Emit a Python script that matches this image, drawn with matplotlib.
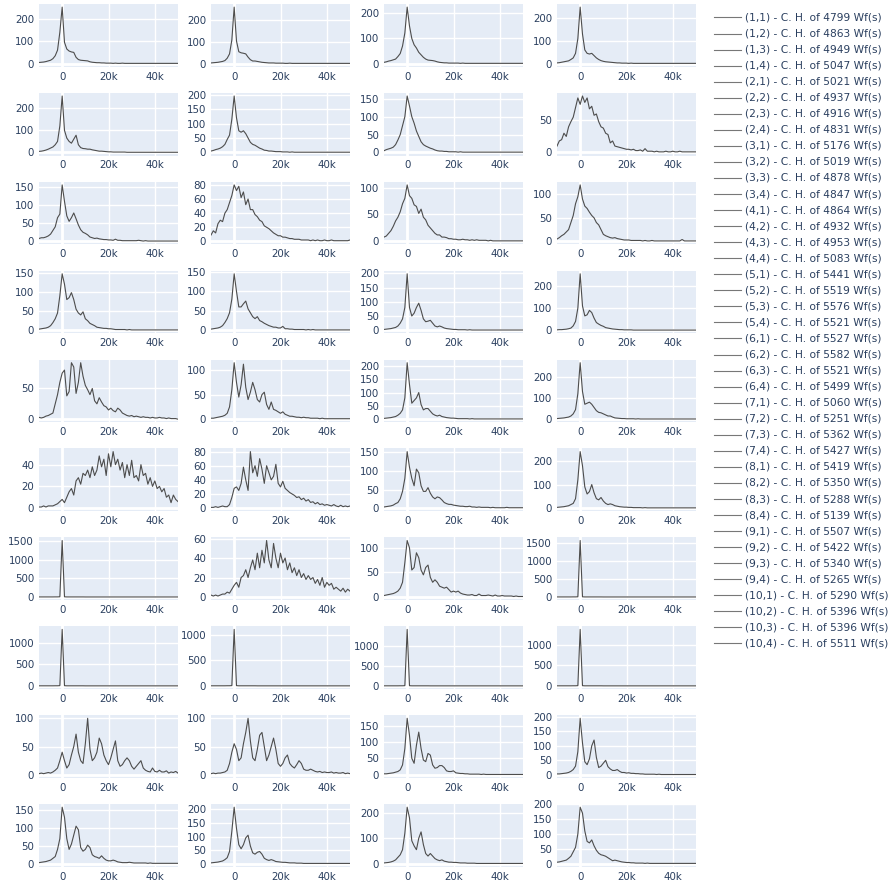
import numpy as np
import matplotlib
matplotlib.use("Agg")
import matplotlib.pyplot as plt
from matplotlib.lines import Line2D
from matplotlib.ticker import FuncFormatter, MultipleLocator

# Histogram counts per 1k-wide bin, bins start at -10k
BIN_START = -10000
BIN_WIDTH = 1000

c_1_1 = [5, 6, 7, 9, 12, 15, 22, 35, 60, 140,
         252, 95, 65, 56, 52, 50, 28, 18, 15, 14,
         13, 12, 8, 6, 5, 4, 4, 3, 3, 2,
         2, 2, 1, 2, 1, 1, 2, 1, 1, 1,
         1, 1, 1, 1, 1, 1, 1, 1, 1, 1,
         1, 1, 1, 1, 1, 1, 1, 1, 1, 1,
         1]
c_1_2 = [3, 4, 5, 6, 8, 10, 14, 25, 45, 110,
         262, 105, 55, 50, 48, 45, 30, 18, 12, 12,
         10, 8, 6, 5, 4, 3, 3, 3, 2, 2,
         2, 2, 1, 1, 2, 1, 1, 1, 1, 1,
         1, 1, 1, 1, 1, 1, 1, 1, 1, 1,
         1, 1, 1, 1, 1, 1, 1, 1, 1, 1,
         1]
c_1_3 = [5, 7, 10, 12, 15, 18, 28, 40, 70, 122,
         225, 150, 100, 75, 62, 45, 35, 25, 18, 14,
         13, 12, 10, 7, 5, 4, 3, 3, 2, 2,
         2, 2, 2, 1, 2, 1, 1, 1, 1, 1,
         1, 1, 1, 1, 1, 1, 1, 1, 1, 1,
         1, 1, 1, 1, 1, 1, 1, 1, 1, 1,
         1]
c_1_4 = [3, 4, 6, 8, 10, 12, 18, 25, 45, 110,
         248, 130, 60, 45, 42, 45, 35, 25, 18, 13,
         10, 8, 7, 6, 5, 4, 3, 3, 2, 2,
         2, 1, 2, 1, 1, 1, 1, 1, 1, 1,
         1, 1, 1, 1, 1, 1, 1, 1, 1, 1,
         1, 1, 1, 1, 1, 1, 1, 1, 1, 1,
         1]
c_2_1 = [5, 6, 8, 11, 15, 20, 25, 35, 50, 120,
         255, 100, 65, 50, 42, 60, 78, 35, 22, 18,
         17, 15, 15, 12, 10, 8, 6, 6, 5, 4,
         3, 3, 2, 2, 2, 2, 2, 2, 1, 1,
         1, 1, 1, 1, 1, 1, 1, 1, 1, 1,
         1, 1, 1, 1, 1, 1, 1, 1, 1, 1,
         1]
c_2_2 = [5, 7, 10, 12, 15, 20, 28, 45, 60, 115,
         195, 120, 75, 70, 75, 65, 50, 35, 28, 25,
         20, 15, 12, 8, 7, 5, 5, 4, 3, 3,
         3, 2, 2, 2, 1, 2, 1, 1, 1, 1,
         1, 1, 1, 1, 1, 1, 1, 1, 1, 1,
         1, 1, 1, 1, 1, 1, 1, 1, 1, 1,
         1]
c_2_3 = [5, 8, 10, 12, 15, 22, 35, 50, 75, 100,
         158, 130, 100, 82, 60, 45, 30, 22, 18, 15,
         12, 10, 7, 5, 4, 4, 3, 3, 2, 2,
         2, 2, 1, 2, 1, 1, 1, 1, 1, 1,
         1, 1, 1, 1, 1, 1, 1, 1, 1, 1,
         1, 1, 1, 1, 1, 1, 1, 1, 1, 1,
         1]
c_2_4 = [10, 18, 20, 30, 25, 40, 48, 55, 70, 85,
         75, 88, 78, 85, 68, 72, 58, 60, 48, 40,
         38, 30, 28, 15, 18, 10, 9, 8, 7, 6,
         5, 5, 4, 5, 3, 3, 4, 2, 6, 2,
         2, 2, 1, 2, 1, 1, 1, 2, 1, 1,
         2, 1, 1, 2, 1, 1, 1, 1, 1, 1,
         1]
c_3_1 = [8, 10, 10, 12, 15, 20, 30, 40, 65, 75,
         155, 110, 70, 55, 65, 78, 62, 45, 32, 25,
         22, 18, 12, 10, 8, 9, 7, 6, 5, 5,
         4, 4, 3, 6, 3, 3, 2, 2, 2, 2,
         2, 2, 2, 3, 2, 1, 2, 1, 1, 1,
         1, 1, 1, 1, 1, 1, 1, 1, 1, 1,
         1]
c_3_2 = [9, 15, 12, 25, 30, 28, 40, 45, 55, 65,
         80, 72, 78, 62, 70, 52, 60, 45, 45, 38,
         35, 30, 28, 22, 20, 18, 15, 12, 10, 8,
         8, 6, 6, 5, 4, 4, 3, 3, 3, 2,
         2, 2, 2, 1, 2, 1, 2, 1, 1, 2,
         1, 1, 2, 1, 1, 1, 1, 1, 1, 1,
         2]
c_3_3 = [8, 10, 15, 20, 28, 38, 45, 55, 70, 80,
         105, 85, 80, 68, 65, 52, 60, 45, 40, 30,
         25, 20, 15, 12, 12, 8, 8, 7, 5, 5,
         4, 4, 3, 3, 4, 3, 3, 2, 3, 2,
         3, 2, 2, 2, 2, 1, 2, 1, 1, 1,
         1, 1, 1, 1, 1, 1, 1, 1, 1, 1,
         1]
c_3_4 = [5, 8, 12, 15, 20, 25, 40, 55, 80, 95,
         120, 90, 75, 70, 62, 55, 50, 40, 35, 25,
         15, 12, 10, 8, 7, 8, 6, 5, 4, 3,
         3, 3, 2, 2, 2, 2, 2, 1, 2, 1,
         1, 2, 1, 1, 1, 1, 1, 1, 1, 1,
         1, 1, 1, 1, 4, 1, 1, 1, 1, 1,
         1]
c_4_1 = [3, 4, 5, 6, 8, 12, 20, 30, 45, 90,
         147, 120, 80, 85, 98, 80, 55, 45, 40, 48,
         30, 25, 18, 15, 12, 8, 7, 6, 5, 5,
         4, 4, 3, 2, 2, 2, 2, 2, 1, 2,
         1, 1, 1, 1, 1, 1, 1, 1, 1, 1,
         1, 1, 1, 1, 1, 1, 1, 1, 1, 1,
         1]
c_4_2 = [3, 4, 5, 6, 8, 12, 20, 30, 45, 80,
         145, 100, 60, 60, 68, 75, 55, 45, 35, 30,
         35, 25, 22, 18, 15, 12, 10, 8, 8, 6,
         6, 10, 4, 4, 3, 3, 2, 2, 2, 2,
         2, 1, 2, 1, 2, 1, 1, 1, 1, 1,
         1, 1, 1, 1, 1, 1, 1, 1, 1, 1,
         1]
c_4_3 = [3, 4, 5, 6, 8, 10, 15, 25, 40, 80,
         198, 80, 50, 60, 80, 95, 70, 40, 30, 32,
         35, 25, 15, 12, 15, 12, 8, 6, 5, 4,
         3, 3, 2, 2, 2, 2, 1, 2, 1, 1,
         1, 1, 1, 1, 1, 1, 1, 1, 1, 1,
         1, 1, 1, 1, 1, 1, 1, 1, 1, 1,
         1]
c_4_4 = [2, 3, 3, 4, 5, 7, 10, 20, 40, 100,
         255, 110, 65, 70, 90, 80, 55, 35, 28, 22,
         18, 12, 10, 8, 6, 5, 4, 3, 3, 2,
         2, 2, 2, 1, 1, 1, 1, 1, 1, 1,
         1, 1, 1, 1, 1, 1, 1, 1, 1, 1,
         1, 1, 1, 1, 1, 1, 1, 1, 1, 1,
         1]
c_5_1 = [3, 2, 3, 5, 6, 8, 10, 25, 40, 60,
         75, 80, 38, 45, 92, 85, 42, 60, 92, 70,
         55, 48, 40, 50, 30, 25, 35, 28, 22, 20,
         15, 18, 14, 12, 18, 15, 10, 8, 6, 5,
         6, 4, 5, 4, 3, 4, 3, 3, 2, 3,
         2, 2, 3, 2, 2, 1, 2, 1, 1, 1,
         0]
c_5_2 = [2, 2, 3, 4, 5, 6, 8, 12, 25, 60,
         115, 75, 45, 70, 112, 65, 40, 55, 75, 60,
         40, 35, 50, 55, 30, 20, 35, 20, 18, 15,
         12, 15, 10, 8, 6, 6, 5, 4, 4, 3,
         4, 3, 3, 2, 2, 2, 2, 1, 2, 1,
         1, 1, 1, 1, 1, 1, 1, 1, 1, 1,
         1]
c_5_3 = [3, 4, 5, 6, 8, 10, 15, 22, 35, 80,
         212, 130, 60, 70, 80, 100, 55, 35, 40, 40,
         30, 20, 15, 12, 15, 10, 8, 6, 5, 4,
         4, 3, 2, 2, 2, 2, 2, 1, 2, 1,
         1, 1, 1, 1, 1, 1, 1, 1, 1, 1,
         1, 1, 1, 1, 1, 1, 1, 1, 1, 1,
         1]
c_5_4 = [3, 4, 5, 6, 8, 10, 15, 25, 45, 120,
         265, 130, 70, 75, 80, 70, 55, 40, 32, 30,
         25, 20, 15, 15, 10, 6, 5, 4, 3, 3,
         2, 2, 2, 2, 1, 2, 1, 1, 1, 1,
         1, 1, 1, 1, 1, 1, 1, 1, 1, 1,
         1, 1, 1, 1, 1, 1, 1, 1, 1, 1,
         1]
c_6_1 = [1, 1, 2, 1, 2, 2, 2, 3, 4, 6,
         8, 5, 10, 15, 18, 12, 25, 28, 22, 32,
         30, 35, 28, 38, 30, 35, 48, 38, 45, 30,
         50, 38, 52, 40, 45, 35, 42, 28, 40, 30,
         44, 28, 30, 25, 40, 30, 32, 22, 28, 20,
         25, 18, 20, 15, 18, 10, 12, 5, 12, 8,
         6]
c_6_2 = [1, 1, 2, 1, 2, 3, 2, 2, 5, 15,
         28, 30, 25, 35, 58, 40, 25, 80, 50, 60,
         45, 70, 55, 35, 60, 50, 40, 45, 62, 35,
         30, 38, 28, 25, 22, 20, 18, 15, 16, 12,
         14, 10, 12, 8, 9, 6, 8, 5, 6, 4,
         5, 4, 3, 5, 3, 2, 4, 2, 3, 2,
         3]
c_6_3 = [3, 4, 5, 6, 8, 12, 15, 25, 45, 80,
         152, 110, 80, 60, 105, 95, 60, 45, 45, 55,
         40, 30, 25, 30, 28, 22, 15, 12, 10, 10,
         8, 7, 6, 5, 5, 4, 4, 5, 3, 3,
         2, 3, 2, 2, 2, 2, 1, 2, 1, 1,
         1, 1, 1, 2, 1, 1, 1, 1, 1, 1,
         1]
c_6_4 = [3, 4, 5, 6, 8, 10, 15, 20, 40, 120,
         240, 180, 90, 60, 70, 100, 65, 40, 35, 45,
         30, 20, 15, 18, 15, 10, 8, 6, 5, 4,
         4, 3, 3, 2, 2, 2, 2, 1, 2, 1,
         1, 1, 1, 1, 1, 1, 1, 1, 1, 1,
         1, 1, 1, 1, 1, 1, 1, 1, 1, 1,
         1]
c_7_1 = [2, 2, 2, 2, 2, 2, 2, 3, 3, 6,
         1520, 5, 2, 2, 2, 2, 2, 2, 2, 2,
         1, 1, 1, 1, 1, 1, 1, 1, 1, 1,
         1, 1, 1, 1, 1, 1, 1, 1, 1, 1,
         1, 1, 1, 1, 1, 1, 1, 1, 1, 1,
         1, 1, 1, 1, 1, 1, 1, 1, 1, 1,
         1]
c_7_2 = [2, 1, 2, 1, 2, 3, 3, 5, 4, 8,
         12, 15, 10, 20, 22, 28, 20, 30, 38, 28,
         45, 30, 48, 35, 58, 38, 30, 55, 40, 30,
         45, 35, 40, 28, 35, 25, 30, 22, 28, 20,
         24, 18, 22, 18, 20, 14, 18, 12, 20, 10,
         15, 12, 14, 8, 10, 8, 6, 9, 5, 8,
         6]
c_7_3 = [3, 4, 5, 6, 7, 9, 12, 18, 30, 70,
         115, 100, 55, 60, 90, 80, 55, 45, 60, 65,
         40, 30, 35, 30, 22, 20, 18, 20, 15, 10,
         12, 10, 12, 8, 6, 5, 4, 4, 5, 3,
         3, 6, 3, 3, 3, 4, 3, 2, 4, 2,
         2, 3, 2, 2, 2, 2, 1, 2, 1, 1,
         1]
c_7_4 = [2, 2, 2, 2, 2, 2, 2, 3, 3, 6,
         1560, 5, 2, 2, 2, 2, 2, 2, 2, 2,
         1, 1, 1, 1, 1, 1, 1, 1, 1, 1,
         1, 1, 1, 1, 1, 1, 1, 1, 1, 1,
         1, 1, 1, 1, 1, 1, 1, 1, 1, 1,
         1, 1, 1, 1, 1, 1, 1, 1, 1, 1,
         1]
c_8_1 = [2, 2, 2, 2, 2, 2, 2, 3, 3, 6,
         1310, 5, 2, 2, 2, 2, 2, 2, 2, 2,
         1, 1, 1, 1, 1, 1, 1, 1, 1, 1,
         1, 1, 1, 1, 1, 1, 1, 1, 1, 1,
         1, 1, 1, 1, 1, 1, 1, 1, 1, 1,
         1, 1, 1, 1, 1, 1, 1, 1, 1, 1,
         1]
c_8_2 = [2, 2, 2, 2, 2, 2, 2, 3, 3, 6,
         1110, 5, 2, 2, 2, 2, 2, 2, 2, 2,
         1, 1, 1, 1, 1, 1, 1, 1, 1, 1,
         1, 1, 1, 1, 1, 1, 1, 1, 1, 1,
         1, 1, 1, 1, 1, 1, 1, 1, 1, 1,
         1, 1, 1, 1, 1, 1, 1, 1, 1, 1,
         1]
c_8_3 = [2, 2, 2, 2, 2, 2, 2, 3, 3, 6,
         1420, 5, 2, 2, 2, 2, 2, 2, 2, 2,
         1, 1, 1, 1, 1, 1, 1, 1, 1, 1,
         1, 1, 1, 1, 1, 1, 1, 1, 1, 1,
         1, 1, 1, 1, 1, 1, 1, 1, 1, 1,
         1, 1, 1, 1, 1, 1, 1, 1, 1, 1,
         1]
c_8_4 = [2, 2, 2, 2, 2, 2, 2, 3, 3, 6,
         1380, 5, 2, 2, 2, 2, 2, 2, 2, 2,
         1, 1, 1, 1, 1, 1, 1, 1, 1, 1,
         1, 1, 1, 1, 1, 1, 1, 1, 1, 1,
         1, 1, 1, 1, 1, 1, 1, 1, 1, 1,
         1, 1, 1, 1, 1, 1, 1, 1, 1, 1,
         1]
c_9_1 = [2, 3, 2, 3, 4, 3, 5, 8, 12, 25,
         40, 25, 12, 18, 35, 50, 72, 40, 25, 20,
         55, 100, 45, 25, 30, 40, 65, 55, 35, 25,
         18, 30, 45, 60, 25, 15, 18, 25, 30, 25,
         15, 10, 15, 20, 25, 12, 8, 6, 5, 12,
         6, 5, 8, 5, 5, 7, 3, 5, 4, 6,
         3]
c_9_2 = [2, 3, 2, 3, 3, 4, 5, 8, 20, 40,
         55, 45, 25, 30, 55, 75, 100, 60, 30, 25,
         45, 70, 75, 50, 25, 35, 50, 65, 45, 20,
         15, 20, 30, 35, 20, 15, 12, 18, 25, 20,
         10, 8, 8, 10, 8, 6, 5, 6, 4, 5,
         4, 4, 5, 3, 4, 3, 3, 4, 2, 3,
         2]
c_9_3 = [3, 3, 4, 5, 6, 8, 10, 15, 30, 80,
         172, 120, 50, 35, 90, 130, 80, 45, 40, 65,
         60, 30, 20, 22, 28, 28, 22, 12, 10, 10,
         12, 6, 5, 4, 4, 3, 3, 2, 2, 2,
         2, 2, 1, 2, 1, 1, 1, 1, 1, 1,
         1, 1, 1, 1, 1, 1, 1, 1, 1, 1,
         1]
c_9_4 = [3, 3, 4, 5, 6, 8, 12, 18, 30, 80,
         195, 110, 45, 35, 55, 100, 120, 60, 25, 30,
         40, 50, 28, 20, 15, 15, 18, 12, 8, 8,
         6, 7, 5, 5, 4, 4, 3, 3, 2, 2,
         2, 2, 2, 1, 2, 1, 1, 1, 1, 1,
         1, 1, 1, 1, 1, 1, 1, 1, 1, 1,
         1]
c_10_1 = [3, 4, 5, 6, 8, 10, 15, 20, 40, 70,
          158, 130, 70, 40, 55, 80, 105, 95, 45, 35,
          40, 52, 45, 25, 20, 18, 15, 22, 15, 10,
          8, 8, 10, 8, 5, 4, 3, 3, 3, 4,
          3, 2, 2, 2, 2, 2, 2, 1, 2, 1,
          1, 1, 1, 1, 1, 1, 1, 1, 1, 1,
          1]
c_10_2 = [3, 4, 5, 6, 8, 10, 15, 22, 45, 120,
          208, 130, 70, 55, 70, 95, 105, 65, 40, 35,
          42, 45, 35, 20, 15, 12, 15, 12, 8, 7,
          6, 5, 5, 4, 3, 3, 3, 2, 2, 2,
          1, 1, 1, 1, 1, 1, 1, 1, 1, 1,
          1, 1, 1, 1, 1, 1, 1, 1, 1, 1,
          1]
c_10_3 = [3, 4, 5, 7, 10, 15, 25, 35, 55, 120,
          222, 180, 90, 70, 55, 100, 125, 75, 40, 30,
          40, 30, 20, 15, 12, 15, 10, 8, 6, 6,
          5, 5, 4, 3, 3, 3, 2, 2, 2, 2,
          1, 1, 1, 1, 1, 1, 1, 1, 1, 1,
          1, 1, 1, 1, 1, 1, 1, 1, 1, 1,
          1]
c_10_4 = [5, 6, 8, 10, 12, 18, 25, 40, 55, 100,
          190, 170, 110, 75, 70, 80, 60, 45, 35, 30,
          28, 25, 20, 15, 10, 12, 10, 8, 6, 5,
          4, 4, 3, 3, 2, 2, 2, 2, 1, 2,
          1, 1, 1, 1, 1, 1, 1, 1, 1, 1,
          1, 1, 1, 1, 1, 1, 1, 1, 1, 1,
          1]

wf_counts = [4799, 4863, 4949, 5047,
             5021, 4937, 4916, 4831,
             5176, 5019, 4878, 4847,
             4864, 4932, 4953, 5083,
             5441, 5519, 5576, 5521,
             5527, 5582, 5521, 5499,
             5060, 5251, 5362, 5427,
             5419, 5350, 5288, 5139,
             5507, 5422, 5340, 5265,
             5290, 5396, 5396, 5511]

y_tick_steps = [100, 100, 100, 100,
                100, 50, 50, 50,
                50, 20, 50, 50,
                50, 50, 50, 100,
                50, 50, 50, 100,
                20, 20, 50, 100,
                500, 20, 50, 500,
                500, 500, 500, 500,
                50, 50, 50, 50,
                50, 50, 100, 50]

series = [c_1_1, c_1_2, c_1_3, c_1_4,
          c_2_1, c_2_2, c_2_3, c_2_4,
          c_3_1, c_3_2, c_3_3, c_3_4,
          c_4_1, c_4_2, c_4_3, c_4_4,
          c_5_1, c_5_2, c_5_3, c_5_4,
          c_6_1, c_6_2, c_6_3, c_6_4,
          c_7_1, c_7_2, c_7_3, c_7_4,
          c_8_1, c_8_2, c_8_3, c_8_4,
          c_9_1, c_9_2, c_9_3, c_9_4,
          c_10_1, c_10_2, c_10_3, c_10_4]

N_ROWS, N_COLS = 10, 4
labels = [f"({r + 1},{c + 1}) - C. H. of {wf_counts[r * N_COLS + c]} Wf(s)"
          for r in range(N_ROWS) for c in range(N_COLS)]

# layout in pixels
W, H = 890, 880
COL_LEFT = [39, 211, 384, 557]
AX_W = 139
ROW_TOP0 = 4
ROW_PITCH = 88.9
AX_H = 62.7

BG = "#E5ECF6"
TXT = "#2a3f5f"
LINE = "#4d4d4d"
FS_TICK = 7.4
FS_LEG = 7.7

plt.rcParams["font.family"] = ["DejaVu Sans"]

fig = plt.figure(figsize=(W / 100, H / 100), dpi=100)
fig.patch.set_facecolor("white")

xfmt = FuncFormatter(lambda v, p: "0" if v == 0 else f"{int(round(v / 1000))}k")
yfmt = FuncFormatter(lambda v, p: f"{int(round(v))}")

for idx, counts in enumerate(series):
    r, c = divmod(idx, N_COLS)
    top = ROW_TOP0 + ROW_PITCH * r
    ax = fig.add_axes([COL_LEFT[c] / W, 1 - (top + AX_H) / H, AX_W / W, AX_H / H])
    ax.set_facecolor(BG)
    counts = np.asarray(counts, dtype=float)
    x = BIN_START + BIN_WIDTH * np.arange(len(counts))
    ax.plot(x, counts, color=LINE, lw=0.8, zorder=3)

    lo, hi = min(0.0, counts.min()), counts.max()
    pad = 0.055 * (hi - lo)
    ax.set_ylim(lo - pad, hi + pad)
    ax.set_xlim(-10000, 50000)

    ax.xaxis.set_major_locator(MultipleLocator(20000))
    ax.xaxis.set_major_formatter(xfmt)
    ax.yaxis.set_major_locator(MultipleLocator(y_tick_steps[idx]))
    ax.yaxis.set_major_formatter(yfmt)
    ax.grid(True, color="white", lw=1.0, zorder=1)
    ax.set_axisbelow(True)
    ax.axvline(0, color="white", lw=2.0, zorder=2)
    ax.axhline(0, color="white", lw=2.0, zorder=2)
    for s in ax.spines.values():
        s.set_visible(False)
    ax.tick_params(length=0, labelsize=FS_TICK, labelcolor=TXT, pad=3.5)

# legend drawn at the right of the grid
LEG_Y0 = 17.5
LEG_DY = 16.05
for k, lab in enumerate(labels):
    yy = 1 - (LEG_Y0 + LEG_DY * k) / H
    fig.add_artist(Line2D([714 / W, 741 / W], [yy, yy], color="#777777", lw=0.8,
                          transform=fig.transFigure))
    fig.text(745 / W, yy, lab, fontsize=FS_LEG, color=TXT, va="center", ha="left")

fig.savefig("out.png", dpi=100)
